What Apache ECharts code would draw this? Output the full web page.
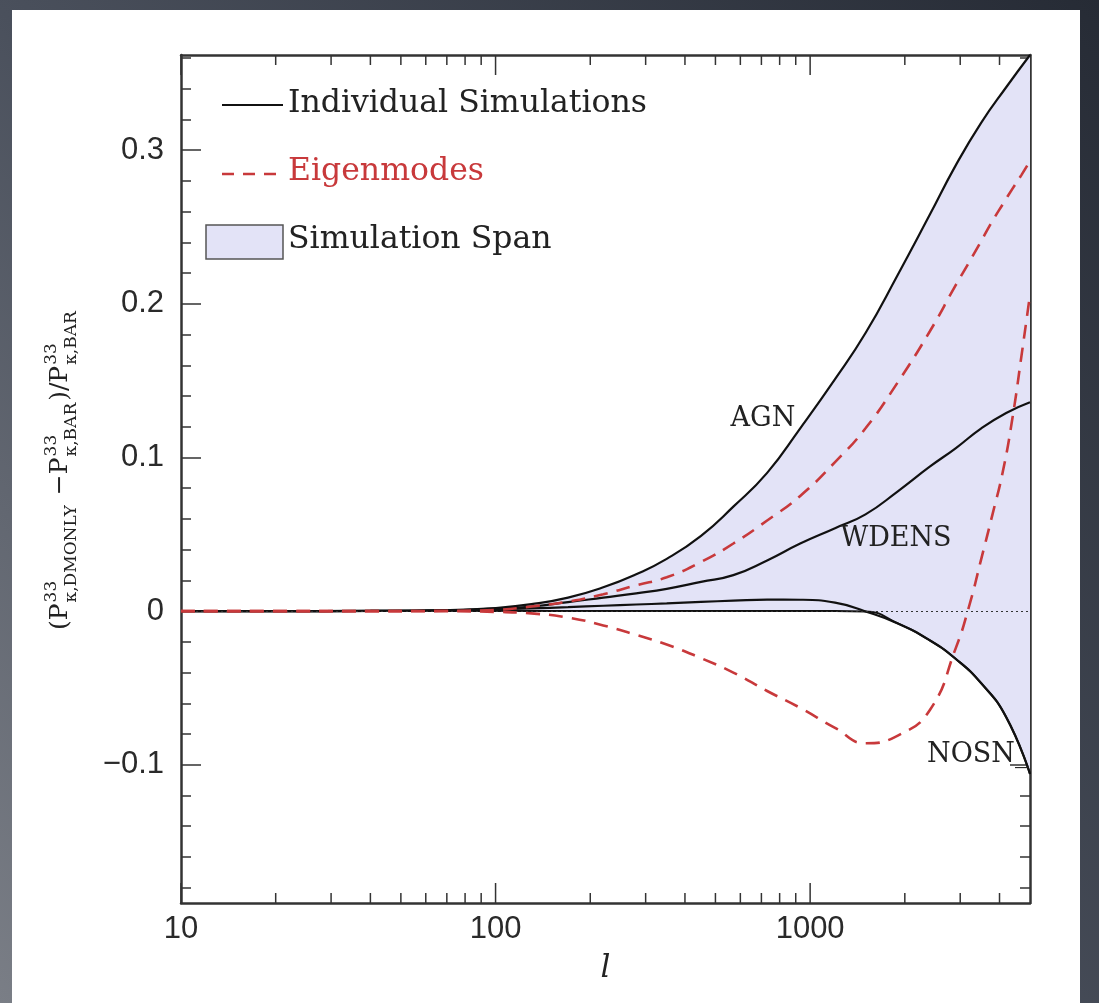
<!DOCTYPE html>
<html>
<head>
<meta charset="utf-8">
<script src="https://cdn.jsdelivr.net/npm/echarts@6/dist/echarts.min.js"></script>
<style>
  html, body { margin: 0; padding: 0; background: #3a3f4b; }
  #chart { width: 1099px; height: 1003px; }
  #ticks { position: absolute; left: 0; top: 0; width: 1099px; height: 1003px; pointer-events: none; }
</style>
</head>
<body>
<div id="chart"></div>
<div id="ticks"></div>
<script>
// Multipoles at which the simulation curves are sampled
const ELL_SIM = [10, 20, 40, 70, 100, 130, 170, 220, 280, 350, 450, 570, 730, 930, 1200, 1500, 1900, 2400, 2900, 3500, 4200, 5000];
// Fractional difference of each baryonic simulation relative to DMONLY
const AGN   = [0, 0, 0.0001, 0.0006, 0.002, 0.0045, 0.0088, 0.0155, 0.024, 0.034, 0.049, 0.068, 0.090, 0.119, 0.151, 0.181, 0.219, 0.258, 0.290, 0.318, 0.341, 0.362];
const WDENS = [0, 0, 0.0001, 0.0005, 0.0017, 0.003, 0.0058, 0.0088, 0.0116, 0.0145, 0.019, 0.0234, 0.033, 0.044, 0.054, 0.063, 0.078, 0.094, 0.106, 0.119, 0.129, 0.136];
const NOSN  = [0, 0, 0.0001, 0.0005, 0.0012, 0.0018, 0.0026, 0.0035, 0.0043, 0.005, 0.006, 0.0068, 0.0075, 0.0074, 0.0055, -0.0002, -0.008, -0.019, -0.031, -0.047, -0.069, -0.106];

// Multipoles at which the eigenmodes are sampled
const ELL_EIG = [10, 20, 40, 70, 100, 130, 170, 220, 280, 350, 450, 570, 730, 930, 1200, 1500, 1900, 2400, 2900, 3200, 3500, 3800, 4100, 4400, 4700, 5000];
const EIGEN_1 = [0, 0, 0, 0.0002, 0.0008, 0.003, 0.0062, 0.011, 0.0168, 0.022, 0.032, 0.044, 0.059, 0.075, 0.097, 0.119, 0.149, 0.182, 0.212, 0.227, 0.241, 0.254, 0.265, 0.275, 0.284, 0.293];
const EIGEN_2 = [0, 0, 0, -0.0001, -0.0005, -0.0015, -0.0042, -0.0093, -0.0155, -0.0217, -0.0306, -0.040, -0.052, -0.063, -0.076, -0.086, -0.081, -0.0645, -0.0244, 0.003, 0.034, 0.063, 0.091, 0.126, 0.1665, 0.206];

// Axis ranges and ticks
const X_MIN = 10, X_MAX = 5000;
const X_MAJOR = [10, 100, 1000];
const X_MINOR = [20, 30, 40, 50, 60, 70, 80, 90, 200, 300, 400, 500, 600, 700, 800, 900, 2000, 3000, 4000];
const Y_MIN = -0.19, Y_MAX = 0.362;
const Y_MAJOR = [-0.1, 0, 0.1, 0.2, 0.3];
const Y_MINOR = [-0.18, -0.16, -0.14, -0.12, -0.08, -0.06, -0.04, -0.02, 0.02, 0.04, 0.06, 0.08,
                 0.12, 0.14, 0.16, 0.18, 0.22, 0.24, 0.26, 0.28, 0.32, 0.34, 0.36];

// Lower envelope of all simulations (DMONLY itself sits at zero)
const SPAN_LOW = NOSN.map(v => Math.min(0, v));

const pairs = (xs, ys) => xs.map((x, i) => [x, ys[i]]);

const SERIF = '"DejaVu Serif", serif';
const SANS = '"Liberation Sans", sans-serif';
const INK = '#222';
const FRAME = '#333';
const RED = '#c8393b';
const SPAN_FILL = '#e3e3f7';
const GRID = { left: 181, top: 55, width: 849, height: 848 };

// Rotated y-axis title with stacked superscripts/subscripts
const measureCtx = document.createElement('canvas').getContext('2d');
function textWidth(str, size) {
  measureCtx.font = size + 'px ' + SERIF;
  return measureCtx.measureText(str).width;
}
function yTitleChildren() {
  const MAIN = 25, SMALL = 17, SUP_DY = -8, SUB_DY = 12;
  const parts = [
    { main: '(P' }, { sup: '33', sub: 'κ,DMONLY' },
    { main: ' −P' }, { sup: '33', sub: 'κ,BAR' },
    { main: ')/P' }, { sup: '33', sub: 'κ,BAR' }
  ];
  const kids = [];
  let cx = 0;
  const txt = (s, x, y, size) => ({
    type: 'text', x: x, y: y,
    style: { text: s, font: size + 'px ' + SERIF, fill: INK, align: 'left', verticalAlign: 'middle',
             textAlign: 'left', textVerticalAlign: 'middle' }
  });
  parts.forEach(p => {
    if (p.main !== undefined) {
      kids.push(txt(p.main, cx, 0, MAIN));
      cx += textWidth(p.main, MAIN);
    } else {
      kids.push(txt(p.sup, cx + 1, SUP_DY, SMALL));
      kids.push(txt(p.sub, cx + 1, SUB_DY, SMALL));
      cx += Math.max(textWidth(p.sup, SMALL), textWidth(p.sub, SMALL)) + 3;
    }
  });
  return kids;
}

const chart = echarts.init(document.getElementById('chart'), null, { renderer: 'canvas' });

const tickLine = { color: FRAME, width: 1.5 };
const frameLine = { show: true, onZero: false, lineStyle: { color: FRAME, width: 2.5 } };
const noLine = { show: false, onZero: false };

function yAxisDef(position, values, len, withLine) {
  return {
    type: 'value', min: Y_MIN, max: Y_MAX, position: position,
    splitLine: { show: false },
    axisLine: withLine ? frameLine : noLine,
    axisTick: { show: true, inside: true, length: len, customValues: values, lineStyle: tickLine },
    axisLabel: { show: false }
  };
}
const leftAxis = yAxisDef('left', Y_MAJOR, 20, true);
leftAxis.axisLabel = { show: true, customValues: Y_MAJOR, margin: 17, fontFamily: SANS, fontSize: 31, color: '#2a2a2a',
                       formatter: v => (v === 0 ? '0' : v.toFixed(1).replace('-', '−')) };

const baseXAxis = {
  type: 'log', logBase: 10, min: X_MIN, max: X_MAX,
  splitLine: { show: false }, axisLine: frameLine, axisTick: { show: false }
};

const labelStyle = { show: true, position: 'inside', fontFamily: SERIF, fontSize: 27, color: INK };
const legendText = (s, y, color) => ({
  type: 'text', x: 288, y: y,
  style: { text: s, font: '31.5px ' + SERIF, fill: color, align: 'left', verticalAlign: 'middle',
           textAlign: 'left', textVerticalAlign: 'middle' }
});

const option = {
  animation: false,
  backgroundColor: new echarts.graphic.LinearGradient(0, 1, 1, 0, [
    { offset: 0, color: '#7a7e86' },
    { offset: 0.45, color: '#4a505c' },
    { offset: 1, color: '#262b35' }
  ]),
  textStyle: { fontFamily: SERIF, color: INK },
  grid: GRID,
  xAxis: [
    Object.assign({}, baseXAxis, {
      position: 'bottom',
      axisLabel: { show: true, customValues: X_MAJOR, margin: 11, fontFamily: SANS, fontSize: 31, color: '#2a2a2a',
                   formatter: v => String(Math.round(v)) },
      name: 'l', nameLocation: 'middle', nameGap: 50,
      nameTextStyle: { fontFamily: SERIF, fontStyle: 'italic', fontSize: 31, color: INK }
    }),
    Object.assign({}, baseXAxis, { position: 'top', axisLabel: { show: false } })
  ],
  yAxis: [
    leftAxis,
    yAxisDef('left', Y_MINOR, 10, false),
    yAxisDef('right', Y_MAJOR, 20, true),
    yAxisDef('right', Y_MINOR, 10, false)
  ],
  series: [
    {
      // upper part of the simulation span: from zero up to the highest simulation
      name: 'Simulation Span', type: 'line', data: pairs(ELL_SIM, AGN), smooth: true, symbol: 'none',
      lineStyle: { width: 0, opacity: 0 }, areaStyle: { color: SPAN_FILL, opacity: 1 }, z: 1
    },
    {
      // lower part of the span, outlined along its lower edge
      name: 'Simulation Span', type: 'line', data: pairs(ELL_SIM, SPAN_LOW), smooth: true, symbol: 'none',
      lineStyle: { color: '#111', width: 2 }, areaStyle: { color: SPAN_FILL, opacity: 1 }, z: 2
    },
    {
      name: 'AGN', type: 'line', data: pairs(ELL_SIM, AGN), smooth: true, symbol: 'none',
      lineStyle: { color: '#111', width: 2.2 }, z: 4,
      markPoint: {
        symbol: 'circle', symbolSize: 0, silent: true, label: labelStyle,
        data: [{ coord: [708, 0.125], label: { formatter: 'AGN' } }]
      }
    },
    {
      name: 'WDENS', type: 'line', data: pairs(ELL_SIM, WDENS), smooth: true, symbol: 'none',
      lineStyle: { color: '#111', width: 2.2 }, z: 4,
      markPoint: {
        symbol: 'circle', symbolSize: 0, silent: true, label: labelStyle,
        data: [{ coord: [1875, 0.047], label: { formatter: 'WDENS' } }]
      }
    },
    {
      name: 'NOSN', type: 'line', data: pairs(ELL_SIM, NOSN), smooth: true, symbol: 'none',
      lineStyle: { color: '#111', width: 2.2 }, z: 4,
      markPoint: {
        symbol: 'circle', symbolSize: 0, silent: true, label: labelStyle,
        data: [{ coord: [3411, -0.0935], label: { formatter: 'NOSN_' } }]
      },
      markLine: {
        silent: true, symbol: 'none', label: { show: false },
        lineStyle: { type: [2, 3], color: FRAME, width: 1 },
        data: [{ yAxis: 0 }]
      }
    },
    {
      name: 'Eigenmode 1', type: 'line', data: pairs(ELL_EIG, EIGEN_1), smooth: true, symbol: 'none',
      lineStyle: { color: RED, width: 2.6, type: [14, 9] }, z: 5
    },
    {
      name: 'Eigenmode 2', type: 'line', data: pairs(ELL_EIG, EIGEN_2), smooth: true, symbol: 'none',
      lineStyle: { color: RED, width: 2.6, type: [14, 9] }, z: 5
    }
  ],
  graphic: [
    { type: 'rect', z: -10, silent: true, shape: { x: 12, y: 10, width: 1068, height: 993 }, style: { fill: '#ffffff' } },
    // legend
    { type: 'group', z: 100, silent: true, children: [
      { type: 'line', shape: { x1: 222, y1: 105, x2: 283, y2: 105 }, style: { stroke: '#111', lineWidth: 2.2 } },
      legendText('Individual Simulations', 104, INK),
      { type: 'line', shape: { x1: 222, y1: 174, x2: 283, y2: 174 }, style: { stroke: RED, lineWidth: 2.6, lineDash: [12, 9] } },
      legendText('Eigenmodes', 172, RED),
      { type: 'rect', shape: { x: 206, y: 225, width: 77, height: 34 }, style: { fill: SPAN_FILL, stroke: '#555', lineWidth: 1.5 } },
      legendText('Simulation Span', 240, INK)
    ] },
    // y-axis title
    { type: 'group', z: 100, x: 60, y: 630, rotation: Math.PI / 2, silent: true, children: yTitleChildren() }
  ]
};

chart.setOption(option);

// Inward tick marks along the bottom and top edges of the log x axis,
// drawn on a transparent layer that shares the same grid and scales.
const tickChart = echarts.init(document.getElementById('ticks'), null, { renderer: 'canvas' });
function xTickSeries(values, len) {
  return {
    type: 'custom', silent: true, clip: false,
    data: values.map(l => [l, 0]),
    encode: { x: 0, y: 1 },
    renderItem: function (params, api) {
      const x = api.coord([api.value(0), 0])[0];
      const cs = params.coordSys;
      const style = { fill: FRAME };
      return {
        type: 'group',
        children: [
          { type: 'rect', shape: { x: x - 0.75, y: cs.y + cs.height - len, width: 1.5, height: len }, style: style },
          { type: 'rect', shape: { x: x - 0.75, y: cs.y, width: 1.5, height: len }, style: style }
        ]
      };
    }
  };
}
tickChart.setOption({
  animation: false,
  grid: GRID,
  xAxis: { type: 'log', logBase: 10, min: X_MIN, max: X_MAX,
           axisLine: { show: false }, axisTick: { show: false }, axisLabel: { show: false }, splitLine: { show: false } },
  yAxis: { type: 'value', min: Y_MIN, max: Y_MAX,
           axisLine: { show: false }, axisTick: { show: false }, axisLabel: { show: false }, splitLine: { show: false } },
  series: [xTickSeries(X_MAJOR, 20), xTickSeries(X_MINOR, 10)]
});
</script>
</body>
</html>
